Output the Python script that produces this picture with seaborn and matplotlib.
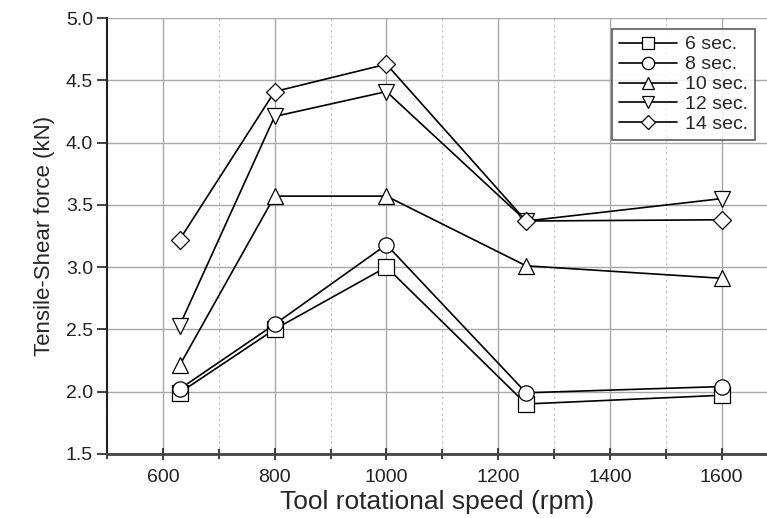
import numpy as np
import pandas as pd
import matplotlib
matplotlib.use("Agg")
import matplotlib.pyplot as plt
from matplotlib.ticker import MultipleLocator
import seaborn as sns

speeds = [630, 800, 1000, 1250, 1600]
series_names = ['6 sec.', '8 sec.', '10 sec.', '12 sec.', '14 sec.']
force_6 = [1.99, 2.50, 3.00, 1.90, 1.97]
force_8 = [2.02, 2.54, 3.18, 1.99, 2.04]
force_10 = [2.21, 3.57, 3.57, 3.01, 2.91]
force_12 = [2.53, 4.21, 4.41, 3.37, 3.55]
force_14 = [3.22, 4.41, 4.63, 3.37, 3.38]

rows = []
for name, vals in zip(series_names, [force_6, force_8, force_10, force_12, force_14]):
    for s, v in zip(speeds, vals):
        rows.append({'speed': s, 'force': v, 'time': name})
df = pd.DataFrame(rows)

sns.set_style('white')
plt.rcParams['font.family'] = ['Liberation Sans', 'DejaVu Sans']

fig = plt.figure(figsize=(7.67, 5.18), dpi=100)
ax = fig.add_axes([0.1395, 0.124, 0.8605, 0.841])

marker_map = dict(zip(series_names, ['s', 'o', '^', 'v', 'D']))
sns.lineplot(data=df, x='speed', y='force', hue='time', style='time',
             hue_order=series_names, style_order=series_names,
             palette=['black'] * 5, markers=marker_map, dashes=False,
             markersize=11, markerfacecolor='white', markeredgecolor='black',
             markeredgewidth=0.9, linewidth=1.2, legend=False, ax=ax)
# diamond a bit smaller
for line in ax.lines:
    if line.get_marker() == 'D':
        line.set_markersize(9)

ax.set_xlim(500, 1681)
ax.set_ylim(1.5, 5.0)
ax.xaxis.set_major_locator(MultipleLocator(200))
ax.xaxis.set_minor_locator(MultipleLocator(100))
ax.yaxis.set_major_locator(MultipleLocator(0.5))
ax.yaxis.set_major_formatter(matplotlib.ticker.FormatStrFormatter('%.1f'))

ax.grid(which='major', axis='both', color='#a8a8a8', linewidth=1.0, linestyle='-')
ax.grid(which='minor', axis='x', color='#c0c0c0', linewidth=0.8, linestyle=(0, (2, 3)))
ax.set_axisbelow(True)

for side in ['top', 'right']:
    ax.spines[side].set_visible(False)
ax.spines['left'].set_color('#222222')
ax.spines['left'].set_linewidth(1.5)
ax.spines['bottom'].set_color('#444444')
ax.spines['bottom'].set_linewidth(2.0)

ax.tick_params(axis='y', which='major', direction='out', length=7, width=1.2,
               labelsize=14, colors='#222222', left=True, pad=3)
ax.tick_params(axis='x', which='major', direction='inout', length=8, width=1.2,
               labelsize=14, colors='#222222', bottom=True, pad=7)
ax.tick_params(axis='x', which='minor', direction='inout', length=7, width=1.2,
               colors='#222222', bottom=True)

ax.set_xlabel('Tool rotational speed (rpm)', fontsize=19, labelpad=3)
ax.set_ylabel('Tensile-Shear force (kN)', fontsize=16, labelpad=8)

leg = ax.legend(handles=ax.lines, labels=series_names, loc='upper right',
                bbox_to_anchor=(0.982, 0.975), fontsize=14, frameon=True,
                fancybox=False, edgecolor='#333333', handlelength=3.0,
                labelspacing=0.12, borderpad=0.35, handletextpad=0.4,
                borderaxespad=0.0, markerscale=0.8)
leg.get_frame().set_linewidth(1.2)

fig.savefig('out.png', dpi=100)
